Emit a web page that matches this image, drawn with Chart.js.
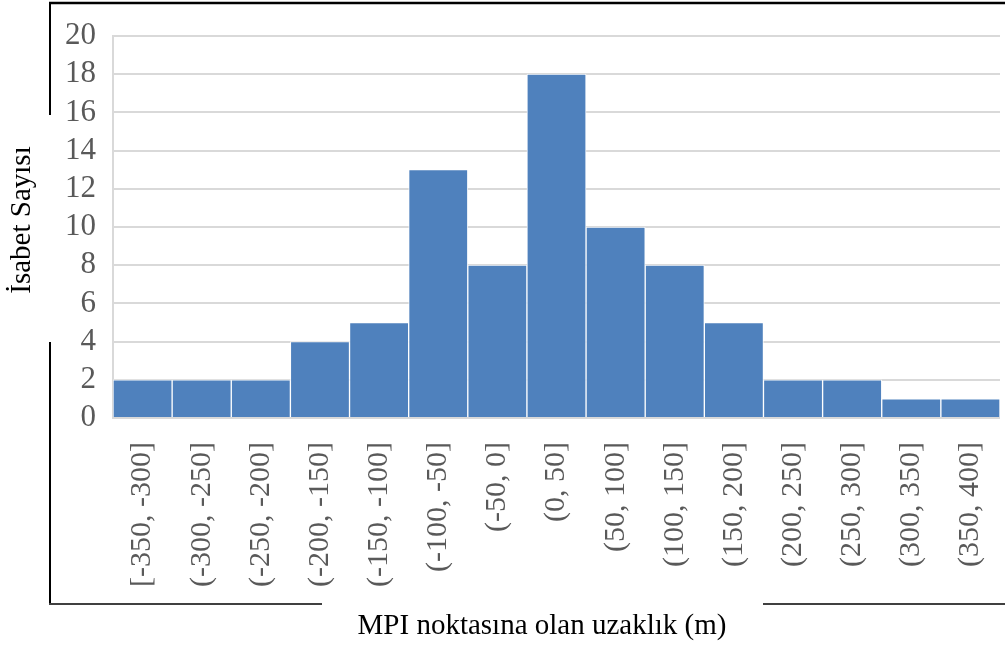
<!DOCTYPE html>
<html>
<head>
<meta charset="utf-8">
<script src="https://cdn.jsdelivr.net/npm/chart.js@4"></script>
<style>
  html, body { margin: 0; padding: 0; background: #fff; }
  canvas { display: block; }
</style>
</head>
<body>
<canvas id="hist" width="1005" height="653"></canvas>
<script>
const binLabels = ['[-350, -300]', '(-300, -250]', '(-250, -200]', '(-200, -150]', '(-150, -100]',
  '(-100, -50]', '(-50, 0]', '(0, 50]', '(50, 100]', '(100, 150]', '(150, 200]',
  '(200, 250]', '(250, 300]', '(300, 350]', '(350, 400]'];
const hitCounts = [2, 2, 2, 4, 5, 13, 8, 18, 10, 8, 5, 2, 2, 1, 1];
const yTicks = [0, 2, 4, 6, 8, 10, 12, 14, 16, 18, 20];
const xTitle = 'MPI noktasına olan uzaklık (m)';
const yTitle = 'İsabet Sayısı';

const serif = "'Liberation Serif', 'Times New Roman', serif";

// outer frame with gaps where the axis titles sit, plus the titles themselves
const frameAndTitles = {
  id: 'frameAndTitles',
  afterDraw(chart) {
    const c = chart.ctx;
    c.save();
    c.lineCap = 'butt';
    c.strokeStyle = '#000';
    c.lineWidth = 2.5;
    c.beginPath();
    c.moveTo(49, 3); c.lineTo(1005, 3);
    c.stroke();
    c.lineWidth = 2;
    c.beginPath();
    c.moveTo(50, 3); c.lineTo(50, 115);
    c.moveTo(50, 342); c.lineTo(50, 605);
    c.stroke();
    c.strokeStyle = '#404040';
    c.beginPath();
    c.moveTo(49, 604); c.lineTo(322, 604);
    c.moveTo(763, 604); c.lineTo(1005, 604);
    c.stroke();

    c.fillStyle = '#000';
    c.font = '29px ' + serif;
    c.textAlign = 'center';
    c.textBaseline = 'alphabetic';
    c.fillText(xTitle, 542, 634);
    c.translate(30, 220);
    c.rotate(-Math.PI / 2);
    c.fillText(yTitle, 0, 0);
    c.restore();
  }
};

new Chart(document.getElementById('hist'), {
  type: 'bar',
  data: {
    labels: binLabels,
    datasets: [{
      data: hitCounts,
      backgroundColor: '#4f81bd',
      borderColor: 'rgba(255,255,255,0.85)',
      borderWidth: 1,
      barPercentage: 1,
      categoryPercentage: 1
    }]
  },
  options: {
    responsive: false,
    animation: false,
    devicePixelRatio: 1,
    layout: { padding: { top: 36, right: 5, left: 0, bottom: 0 } },
    plugins: {
      legend: { display: false },
      tooltip: { enabled: false }
    },
    scales: {
      x: {
        grid: { display: false },
        border: { display: false },
        ticks: {
          autoSkip: false,
          minRotation: 90,
          maxRotation: 90,
          padding: 16,
          color: '#595959',
          font: { family: serif, size: 30 }
        },
        afterFit(scale) {
          scale.height = 653 - 418;
          scale.paddingLeft = 0;
          scale.paddingRight = 0;
        }
      },
      y: {
        min: 0,
        max: 20,
        afterBuildTicks(scale) { scale.ticks = yTicks.map(v => ({ value: v })); },
        grid: { color: '#d9d9d9', lineWidth: 2, drawTicks: false },
        border: { display: true, color: '#d9d9d9', width: 2 },
        ticks: {
          autoSkip: false,
          padding: 17,
          color: '#595959',
          font: { family: serif, size: 31 }
        },
        afterFit(scale) {
          scale.width = 113;
          scale.paddingTop = 0;
          scale.paddingBottom = 0;
        }
      }
    }
  },
  plugins: [frameAndTitles]
});
</script>
</body>
</html>
